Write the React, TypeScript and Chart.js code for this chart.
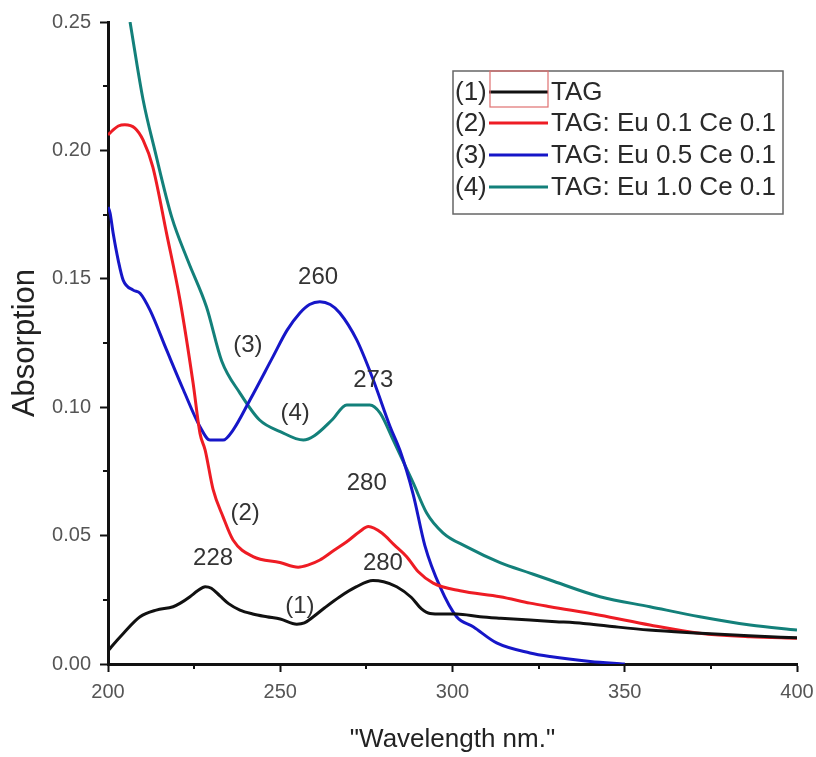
import React, { useEffect, useRef } from "react";
import { Chart, registerables } from "chart.js";

Chart.register(...registerables);

const FONT = "'Liberation Sans', Arial, sans-serif";

// Series metadata
const seriesTags = ["(1)", "(2)", "(3)", "(4)"];
const seriesNames = ["TAG", "TAG: Eu 0.1 Ce 0.1", "TAG: Eu 0.5 Ce 0.1", "TAG: Eu 1.0 Ce 0.1"];
const seriesColors = ["#111111", "#ee1c24", "#1616c8", "#13807a"];

// (1) TAG
const tagWl = [200, 201, 204.5, 209.3, 214, 218.9, 221, 223.8, 226, 228.2, 230, 232.5, 235, 238.3, 242, 246.1, 250, 254.8, 257, 259.6, 263, 267.3, 272, 276.9, 280, 283.8, 288, 291, 293.5, 297, 301.2, 308, 314, 322.5, 330, 338, 345, 357, 372, 386, 400];
const tagAbs = [0.005, 0.0067, 0.012, 0.0184, 0.021, 0.0223, 0.0237, 0.0262, 0.0285, 0.0301, 0.0295, 0.0265, 0.0235, 0.021, 0.0195, 0.0184, 0.0175, 0.0155, 0.016, 0.0184, 0.022, 0.0262, 0.03, 0.0325, 0.032, 0.0301, 0.026, 0.0215, 0.0197, 0.0195, 0.0195, 0.0184, 0.0178, 0.0171, 0.0165, 0.0158, 0.0148, 0.0132, 0.012, 0.011, 0.0102];

// (2) TAG: Eu 0.1 Ce 0.1
const eu01Wl = [200, 201.5, 203, 204.9, 207.8, 210.2, 213, 217, 220.9, 224.7, 226.7, 228.2, 230.5, 233.4, 236.3, 242.1, 249.9, 255.2, 258, 261.5, 265, 269.3, 273, 275.6, 279.5, 283, 286.7, 290, 294.4, 302.2, 313.8, 322.5, 328.3, 342.8, 357.3, 371.8, 386.4, 400];
const eu01Abs = [0.206, 0.208, 0.2095, 0.21, 0.2087, 0.204, 0.1936, 0.1677, 0.1417, 0.1094, 0.0898, 0.0833, 0.068, 0.0573, 0.0483, 0.0418, 0.0395, 0.0377, 0.0385, 0.0405, 0.0437, 0.0476, 0.0515, 0.0535, 0.051, 0.0465, 0.0418, 0.036, 0.0315, 0.0285, 0.0262, 0.0237, 0.0223, 0.019, 0.0152, 0.012, 0.0106, 0.01];

// (3) TAG: Eu 0.5 Ce 0.1
const eu05Wl = [200, 200.6, 201.5, 203, 204.4, 207.3, 209.3, 212.2, 217, 221.9, 226.7, 229.6, 233.4, 236.3, 241.2, 247.9, 252, 255.7, 258.5, 261.5, 264.5, 267.3, 272.2, 276.9, 281.9, 284.8, 288.6, 292, 296.4, 301.2, 306, 312.8, 322.5, 328.3, 340, 350];
const eu05Abs = [0.178, 0.1756, 0.1677, 0.157, 0.1495, 0.1456, 0.1444, 0.1378, 0.1223, 0.1067, 0.0924, 0.0872, 0.0872, 0.0911, 0.1028, 0.1197, 0.13, 0.1367, 0.14, 0.1411, 0.14, 0.1367, 0.1262, 0.111, 0.0924, 0.083, 0.066, 0.046, 0.03, 0.0184, 0.0145, 0.0082, 0.0043, 0.0029, 0.001, 0];

// (4) TAG: Eu 1.0 Ce 0.1
const eu10Wl = [206.4, 210.2, 213.6, 218.5, 223.2, 228.6, 233, 238.3, 244, 250, 256.7, 260, 265, 269.3, 276, 279, 282.8, 288.6, 292.5, 297.3, 304, 313.8, 322.5, 328.3, 342.8, 357.3, 371.8, 386.4, 400];
const eu10Abs = [0.25, 0.2196, 0.2, 0.174, 0.157, 0.139, 0.118, 0.1055, 0.095, 0.0905, 0.0872, 0.089, 0.095, 0.1009, 0.1009, 0.0977, 0.0872, 0.0705, 0.0588, 0.051, 0.0457, 0.0395, 0.0354, 0.0327, 0.0262, 0.0223, 0.0184, 0.0152, 0.0132];

const seriesWl = [tagWl, eu01Wl, eu05Wl, eu10Wl];
const seriesAbs = [tagAbs, eu01Abs, eu05Abs, eu10Abs];

// Axis ticks
const xTicks = [200, 250, 300, 350, 400];
const xMinorTicks = [225, 275, 325, 375];
const yTicks = [0, 0.05, 0.1, 0.15, 0.2, 0.25];
const yMinorTicks = [0.025, 0.075, 0.125, 0.175, 0.225];

// Peak and curve annotations (wavelength, absorption)
const noteTexts = ["228", "280", "280", "260", "273", "(1)", "(2)", "(3)", "(4)"];
const noteWl = [230.5, 279.8, 275.1, 261, 277, 255.7, 239.8, 240.6, 254.3];
const noteAbs = [0.0411, 0.0392, 0.0704, 0.1507, 0.1106, 0.0223, 0.0587, 0.1242, 0.0976];

const decorPlugin = {
  id: "decor",
  afterDraw(chart: any) {
    const ctx: CanvasRenderingContext2D = chart.ctx;
    const xs = chart.scales.x;
    const ys = chart.scales.y;
    const area = chart.chartArea;

    // minor tick marks
    ctx.save();
    ctx.strokeStyle = "#111";
    ctx.lineWidth = 2;
    ctx.beginPath();
    xMinorTicks.forEach((v) => {
      const px = Math.round(xs.getPixelForValue(v));
      ctx.moveTo(px, area.bottom);
      ctx.lineTo(px, area.bottom + 5);
    });
    yMinorTicks.forEach((v) => {
      const py = Math.round(ys.getPixelForValue(v));
      ctx.moveTo(area.left, py);
      ctx.lineTo(area.left - 5, py);
    });
    ctx.stroke();
    ctx.restore();

    // annotations
    ctx.save();
    ctx.font = `24px ${FONT}`;
    ctx.fillStyle = "#333";
    ctx.textAlign = "center";
    ctx.textBaseline = "middle";
    noteTexts.forEach((t, i) => {
      ctx.fillText(t, xs.getPixelForValue(noteWl[i]), ys.getPixelForValue(noteAbs[i]));
    });
    ctx.restore();

    // legend box
    ctx.save();
    const bx = 453, by = 71, bw = 330, bh = 143;
    ctx.fillStyle = "#fff";
    ctx.fillRect(bx, by, bw, bh);
    ctx.strokeStyle = "#666";
    ctx.lineWidth = 1.5;
    ctx.strokeRect(bx, by, bw, bh);
    ctx.font = `26px ${FONT}`;
    ctx.textBaseline = "middle";
    ctx.textAlign = "left";
    const rowY = [92, 123, 155, 187];
    seriesNames.forEach((name, i) => {
      const y = rowY[i];
      ctx.fillStyle = "#2a2a2a";
      ctx.fillText(seriesTags[i], 455, y + 1);
      ctx.strokeStyle = seriesColors[i];
      ctx.lineWidth = 3;
      ctx.beginPath();
      ctx.moveTo(489, y);
      ctx.lineTo(548, y);
      ctx.stroke();
      ctx.fillStyle = "#2a2a2a";
      ctx.fillText(name, 551, y + 1);
    });
    // selection frame around the first legend sample
    ctx.strokeStyle = "#e07070";
    ctx.lineWidth = 1.2;
    ctx.strokeRect(490, 71, 58, 36);
    ctx.restore();
  },
};

export default function App() {
  const canvasRef = useRef<HTMLCanvasElement | null>(null);

  useEffect(() => {
    document.body.style.margin = "0";
    const canvas = canvasRef.current;
    if (!canvas) return;

    const datasets = seriesNames.map((name, i) => ({
      label: name,
      data: seriesWl[i].map((w, j) => ({ x: w, y: seriesAbs[i][j] })),
      borderColor: seriesColors[i],
      backgroundColor: seriesColors[i],
      borderWidth: 3,
      pointRadius: 0,
      fill: false,
      cubicInterpolationMode: "monotone" as const,
    }));

    const chart = new Chart(canvas, {
      type: "line",
      data: { datasets },
      options: {
        animation: false,
        responsive: false,
        maintainAspectRatio: false,
        layout: { padding: { left: 0, right: 19, top: 22, bottom: 0 } },
        plugins: {
          legend: { display: false },
          tooltip: { enabled: false },
        },
        scales: {
          x: {
            type: "linear",
            min: 200,
            max: 400,
            afterBuildTicks: (s: any) => {
              s.ticks = xTicks.map((v) => ({ value: v }));
            },
            afterFit: (s: any) => {
              s.height = 93;
              s.paddingLeft = 0;
              s.paddingRight = 0;
            },
            ticks: {
              color: "#555",
              font: { family: FONT, size: 20 },
              padding: 8,
              maxRotation: 0,
              autoSkip: false,
              callback: (v: any) => String(v),
            },
            grid: {
              drawOnChartArea: false,
              drawTicks: true,
              tickLength: 8,
              tickWidth: 2,
              tickColor: "#111",
            },
            border: { display: true, color: "#111", width: 3 },
            title: {
              display: true,
              text: '"Wavelength nm."',
              color: "#222",
              font: { family: FONT, size: 26 },
              padding: { top: 0, bottom: 2 },
            },
          },
          y: {
            type: "linear",
            min: 0,
            max: 0.25,
            afterBuildTicks: (s: any) => {
              s.ticks = yTicks.map((v) => ({ value: v }));
            },
            afterFit: (s: any) => {
              s.width = 108;
              s.paddingTop = 0;
              s.paddingBottom = 0;
            },
            ticks: {
              color: "#555",
              font: { family: FONT, size: 20 },
              padding: 9,
              callback: (v: any) => Number(v).toFixed(2),
            },
            grid: {
              drawOnChartArea: false,
              drawTicks: true,
              tickLength: 8,
              tickWidth: 2,
              tickColor: "#111",
            },
            border: { display: true, color: "#111", width: 3 },
            title: {
              display: true,
              text: "Absorption",
              color: "#222",
              font: { family: FONT, size: 31 },
              padding: { top: 7, bottom: 0 },
            },
          },
        },
      },
      plugins: [decorPlugin],
    });

    return () => chart.destroy();
  }, []);

  return (
    <div style={{ width: 816, height: 757, background: "#fff" }}>
      <canvas ref={canvasRef} width={816} height={757} style={{ display: "block" }} />
    </div>
  );
}
